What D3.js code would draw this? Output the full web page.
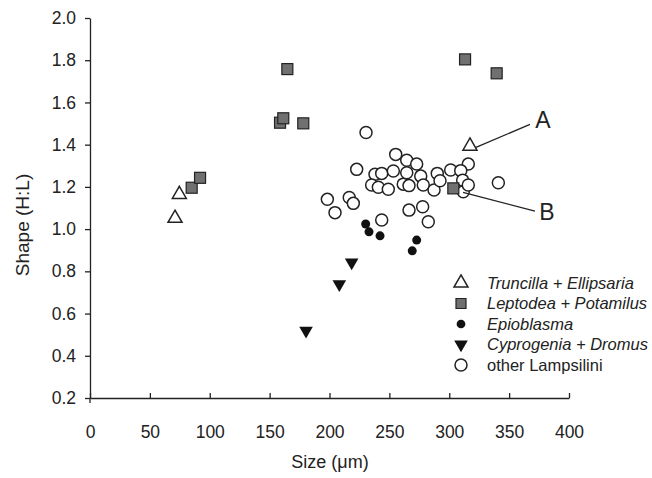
<!DOCTYPE html>
<html>
<head>
<meta charset="utf-8">
<script src="https://cdn.jsdelivr.net/npm/d3@7"></script>
<style>
  body { margin: 0; background: #fff; }
  svg { display: block; font-family: "Liberation Sans", Arial, sans-serif; }
</style>
</head>
<body>
<svg id="chart" width="652" height="478"></svg>
<script>
// ---- data ----
var xTicks = [0, 50, 100, 150, 200, 250, 300, 350, 400];
var yTicks = [0.2, 0.4, 0.6, 0.8, 1.0, 1.2, 1.4, 1.6, 1.8, 2.0];

var truncillaX = [71.0, 74.6, 317.3];
var truncillaY = [1.056, 1.169, 1.398];

var leptodeaX = [84.9, 91.9, 158.7, 161.4, 178.1, 164.8, 313.2, 339.6, 303.4];
var leptodeaY = [1.196, 1.243, 1.504, 1.525, 1.501, 1.758, 1.804, 1.738, 1.193];

var epioblasmaX = [230.2, 233.0, 242.2, 272.8, 269.1];
var epioblasmaY = [1.024, 0.987, 0.968, 0.948, 0.897];

var cyprogeniaX = [218.5, 208.2, 180.4];
var cyprogeniaY = [0.838, 0.735, 0.514];

var lampsiliniX = [230.5, 255.3, 264.5, 222.7, 238.0, 243.6, 253.3, 235.2, 240.8, 249.1,
                   261.6, 266.4, 198.2, 216.5, 219.9, 204.6, 243.6, 266.4, 315.9, 341.0,
                   272.8, 264.5, 276.2, 278.3, 287.3, 290.0, 292.3, 301.2, 309.6, 311.2,
                   311.7, 315.9, 277.8, 282.5];
var lampsiliniY = [1.458, 1.354, 1.326, 1.283, 1.260, 1.264, 1.275, 1.209, 1.198, 1.189,
                   1.213, 1.206, 1.141, 1.150, 1.122, 1.078, 1.043, 1.090, 1.308, 1.220,
                   1.308, 1.267, 1.251, 1.209, 1.185, 1.264, 1.229, 1.280, 1.277, 1.232,
                   1.177, 1.209, 1.106, 1.035];

var legendLabels = ["Truncilla + Ellipsaria", "Leptodea + Potamilus", "Epioblasma",
                    "Cyprogenia + Dromus", "other Lampsilini"];

// annotations A / B: label position and pointer line, in data units
var annotations = [
  { label: "A", lx: 378.3, ly: 1.517, x1: 367.4, y1: 1.496, x2: 322.3, y2: 1.387 },
  { label: "B", lx: 381.6, ly: 1.081, x1: 371.6, y1: 1.085, x2: 311.5, y2: 1.174 }
];

// ---- layout ----
var svg = d3.select("#chart");
var ink = "#222";

var x = d3.scaleLinear().domain([0, 400]).range([90, 569]);
var y = d3.scaleLinear().domain([0.2, 2.0]).range([398, 18]);

function zip(xs, ys) { return xs.map(function(v, i) { return { x: v, y: ys[i] }; }); }

// axes
var yAxis = svg.append("g")
  .attr("transform", "translate(90,0)")
  .call(d3.axisLeft(y).tickValues(yTicks).tickFormat(d3.format(".1f"))
        .tickSize(5).tickSizeOuter(0).tickPadding(9));

var xAxis = svg.append("g")
  .attr("transform", "translate(0,398)")
  .call(d3.axisBottom(x).tickValues(xTicks).tickFormat(d3.format("d"))
        .tickSize(-5).tickSizeOuter(0).tickPadding(28));

[yAxis, xAxis].forEach(function(a) {
  a.select(".domain").attr("stroke", ink).attr("stroke-width", 1.3);
  a.selectAll(".tick line").attr("stroke", ink).attr("stroke-width", 1.3);
  a.selectAll(".tick text").attr("fill", ink).attr("font-size", 17.5);
});
// small stub below the origin
svg.append("line").attr("x1", 90).attr("x2", 90).attr("y1", 398).attr("y2", 403)
  .attr("stroke", ink).attr("stroke-width", 1.3);

// axis titles
svg.append("text")
  .attr("transform", "translate(22,225) rotate(-90)")
  .attr("text-anchor", "middle").attr("dominant-baseline", "central")
  .attr("font-size", 19).attr("fill", ink)
  .text("Shape (H:L)");

svg.append("text")
  .attr("x", 330).attr("y", 468)
  .attr("text-anchor", "middle")
  .attr("font-size", 18).attr("fill", ink)
  .text("Size (\u03bcm)");

// ---- marks ----
var plot = svg.append("g");

var tri = d3.symbol().type(d3.symbolTriangle).size(85);
var triDown = d3.symbol().type(d3.symbolTriangle).size(80);

plot.selectAll(".lamp").data(zip(lampsiliniX, lampsiliniY)).enter()
  .append("circle").attr("class", "lamp")
  .attr("cx", function(d) { return x(d.x); })
  .attr("cy", function(d) { return y(d.y); })
  .attr("r", 6)
  .attr("fill", "#fff").attr("stroke", ink).attr("stroke-width", 1.5);

plot.selectAll(".lept").data(zip(leptodeaX, leptodeaY)).enter()
  .append("rect").attr("class", "lept")
  .attr("x", function(d) { return x(d.x) - 5.5; })
  .attr("y", function(d) { return y(d.y) - 5.5; })
  .attr("width", 11).attr("height", 11)
  .attr("fill", "#707070").attr("stroke", ink).attr("stroke-width", 1.2);

plot.selectAll(".trunc").data(zip(truncillaX, truncillaY)).enter()
  .append("path").attr("class", "trunc")
  .attr("d", tri)
  .attr("transform", function(d) { return "translate(" + x(d.x) + "," + (y(d.y) + 1) + ")"; })
  .attr("fill", "#fff").attr("stroke", ink).attr("stroke-width", 1.5);

plot.selectAll(".epio").data(zip(epioblasmaX, epioblasmaY)).enter()
  .append("circle").attr("class", "epio")
  .attr("cx", function(d) { return x(d.x); })
  .attr("cy", function(d) { return y(d.y); })
  .attr("r", 4.5)
  .attr("fill", "#111");

plot.selectAll(".cypr").data(zip(cyprogeniaX, cyprogeniaY)).enter()
  .append("path").attr("class", "cypr")
  .attr("d", triDown)
  .attr("transform", function(d) { return "translate(" + x(d.x) + "," + (y(d.y) - 1) + ") rotate(180)"; })
  .attr("fill", "#111");

// annotations
annotations.forEach(function(a) {
  svg.append("line")
    .attr("x1", x(a.x1)).attr("y1", y(a.y1))
    .attr("x2", x(a.x2)).attr("y2", y(a.y2))
    .attr("stroke", ink).attr("stroke-width", 1.3);
  svg.append("text")
    .attr("x", x(a.lx)).attr("y", y(a.ly))
    .attr("text-anchor", "middle").attr("dominant-baseline", "central")
    .attr("font-size", 23).attr("fill", ink)
    .text(a.label);
});

// ---- legend ----
var legend = svg.append("g")
  .attr("font-size", 16.5).attr("fill", ink)
  .selectAll("g")
  .data(legendLabels)
  .enter().append("g")
  .attr("transform", function(d, i) { return "translate(461," + (283 + i * 20.5) + ")"; });

legend.append("path")
  .attr("d", function(d, i) {
    if (i == 0) return tri();
    if (i == 1) return "M-5,-5H5V5H-5Z";
    if (i == 2) return d3.symbol().type(d3.symbolCircle).size(60)();
    if (i == 3) return triDown();
    return d3.symbol().type(d3.symbolCircle).size(113)();
  })
  .attr("transform", function(d, i) { return i == 3 ? "rotate(180)" : null; })
  .attr("fill", function(d, i) { return i == 1 ? "#707070" : (i == 2 || i == 3) ? "#111" : "#fff"; })
  .attr("stroke", function(d, i) { return (i == 2 || i == 3) ? "none" : ink; })
  .attr("stroke-width", function(d, i) { return i == 1 ? 1.2 : 1.5; });

legend.append("text")
  .attr("x", 26)
  .attr("dy", "0.35em")
  .attr("font-style", function(d, i) { return i == 4 ? "normal" : "italic"; })
  .text(function(d) { return d; });
</script>
</body>
</html>
